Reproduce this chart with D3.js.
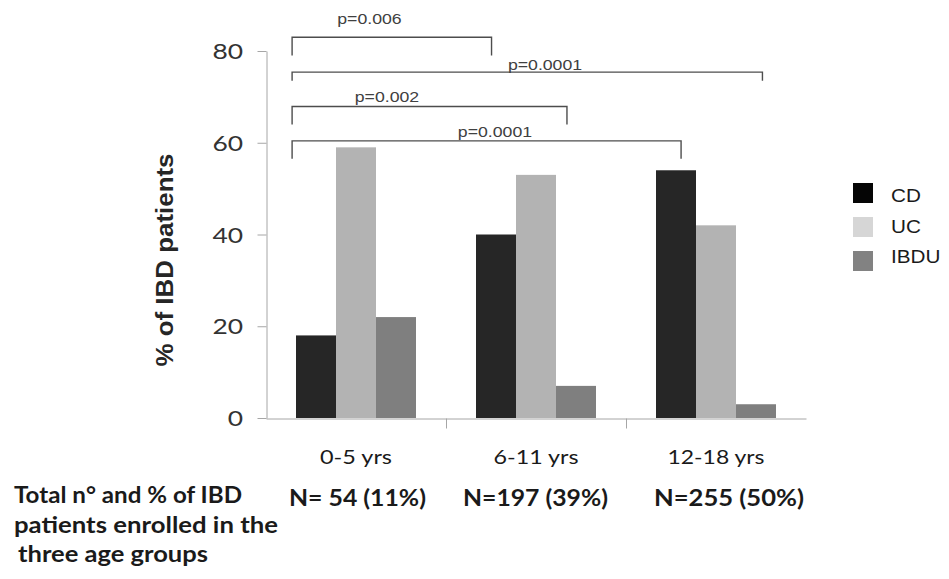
<!DOCTYPE html>
<html>
<head>
<meta charset="utf-8">
<script src="https://cdn.jsdelivr.net/npm/d3@7"></script>
<style>
  html, body { margin: 0; padding: 0; background: #ffffff; }
  svg { display: block; }
</style>
</head>
<body>
<svg id="chart" width="949" height="579"></svg>
<script>
// ---- data ----
const categories = ["0-5 yrs", "6-11 yrs", "12-18 yrs"];
const seriesNames = ["CD", "UC", "IBDU"];
const cdValues = [18, 40, 54];
const ucValues = [59, 53, 42];
const ibduValues = [22, 7, 3];
const yTicks = [0, 20, 40, 60, 80];
const totals = ["N= 54 (11%)", "N=197 (39%)", "N=255 (50%)"];
const pLabels = ["p=0.006", "p=0.0001", "p=0.002", "p=0.0001"];
const captionLines = ["Total n\u00b0 and % of IBD", "patients enrolled in the", "three age groups"];
const yTitle = "% of IBD patients";

const seriesValues = [cdValues, ucValues, ibduValues];
const barColors = ["#262626", "#b3b3b3", "#7f7f7f"];
const swatchColors = ["#050505", "#d6d6d6", "#828282"];

// ---- layout ----
const svg = d3.select("#chart");
const plot = { left: 266, right: 806, top: 51, bottom: 418 };
const numFont = "'Liberation Sans', Arial, Helvetica, sans-serif";
const tableFont = "Lato, 'Open Sans', sans-serif";
const axisColor = "#a6a6a6";

const y = d3.scaleLinear().domain([0, 80]).range([plot.bottom, plot.top]);
const x0 = d3.scaleBand().domain(categories).range([plot.left, plot.right])
  .paddingInner(1 / 3).paddingOuter(1 / 6);
const x1 = d3.scaleBand().domain(seriesNames).range([0, x0.bandwidth()]);
// continuous position along the category axis (one unit per age group)
const xu = d3.scaleLinear().domain([0, categories.length]).range([plot.left, plot.right]);

// text drawn slightly widened horizontally
function placeText(sel, x, yy, k) {
  return sel.attr("transform", `translate(${x},${yy}) scale(${k},1)`);
}

// ---- bars ----
const rows = categories.map((c, i) => ({
  cat: c,
  vals: seriesNames.map((s, j) => ({ s, j, v: seriesValues[j][i] }))
}));

svg.append("g").selectAll("g").data(rows).join("g")
  .attr("transform", d => `translate(${x0(d.cat)},0)`)
  .selectAll("rect").data(d => d.vals).join("rect")
  .attr("x", d => x1(d.s))
  .attr("width", x1.bandwidth())
  .attr("y", d => y(d.v))
  .attr("height", d => y(0) - y(d.v))
  .attr("fill", d => barColors[d.j]);

// ---- axes ----
const yAxis = svg.append("g")
  .attr("transform", `translate(${plot.left + 0.5},0)`)
  .call(d3.axisLeft(y).tickValues(yTicks).tickSize(9).tickSizeOuter(0).tickFormat(""));
yAxis.selectAll("path, line").attr("stroke", axisColor).attr("stroke-width", 1);

const xAxis = svg.append("g")
  .attr("transform", `translate(0,${plot.bottom + 0.5})`)
  .call(d3.axisBottom(xu).tickValues([1, 2]).tickSize(10).tickSizeOuter(0).tickFormat(""));
xAxis.selectAll("path, line").attr("stroke", axisColor).attr("stroke-width", 1);

// y tick labels
svg.append("g").selectAll("text").data(yTicks).join("text")
  .each(function (d) { placeText(d3.select(this), 243, y(d) + 8, 1.2); })
  .attr("text-anchor", "end")
  .attr("font-family", tableFont)
  .attr("font-size", 22)
  .attr("fill", "#333333")
  .text(d => d);

// y title
svg.append("text")
  .attr("transform", `translate(173,260) rotate(-90)`)
  .attr("text-anchor", "middle")
  .attr("font-family", numFont)
  .attr("font-weight", "bold")
  .attr("font-size", 23)
  .attr("fill", "#262626")
  .attr("textLength", 213)
  .attr("lengthAdjust", "spacingAndGlyphs")
  .text(yTitle);

// category labels under the axis
const catWidths = [72, 85, 97];
svg.append("g").selectAll("text").data(categories).join("text")
  .attr("x", (d, i) => x0(d) + x0.bandwidth() / 2 - catWidths[i] / 2)
  .attr("y", 463.5)
  .attr("font-family", tableFont)
  .attr("font-size", 19.5)
  .attr("fill", "#1a1a1a")
  .attr("textLength", (d, i) => catWidths[i])
  .attr("lengthAdjust", "spacingAndGlyphs")
  .text(d => d);

// totals per age group
const totalLeft = [23, 17, 28];
const totalWidths = [137, 145, 150];
svg.append("g").selectAll("text").data(totals).join("text")
  .attr("x", (d, i) => xu(i) + totalLeft[i])
  .attr("y", 505.5)
  .attr("font-family", tableFont)
  .attr("font-weight", "bold")
  .attr("font-size", 23)
  .attr("fill", "#1a1a1a")
  .attr("textLength", (d, i) => totalWidths[i])
  .attr("lengthAdjust", "spacingAndGlyphs")
  .text(d => d);

// caption on the left
const captionX = [14, 14, 18];
const captionY = [503, 533, 562];
const captionW = [228, 264, 190];
svg.append("g").selectAll("text").data(captionLines).join("text")
  .attr("x", (d, i) => captionX[i])
  .attr("y", (d, i) => captionY[i])
  .attr("font-family", tableFont)
  .attr("font-weight", "bold")
  .attr("font-size", 23)
  .attr("fill", "#1a1a1a")
  .attr("textLength", (d, i) => captionW[i])
  .attr("lengthAdjust", "spacingAndGlyphs")
  .text(d => d);

// ---- significance brackets ----
// spans in age-group units, heights in axis units
const bracketLayout = [
  { x0: 0.145, x1: 1.253, top: 83.0, foot: 79.0, tx: 0.575, dy: -12.8 },
  { x0: 0.145, x1: 2.758, top: 75.4, foot: 73.5, tx: 1.55, dy: -2.6 },
  { x0: 0.145, x1: 1.672, top: 67.9, foot: 64.0, tx: 0.672, dy: -4.3 },
  { x0: 0.145, x1: 2.306, top: 60.4, foot: 56.5, tx: 1.272, dy: -3.7 }
];
const bracketG = svg.append("g");
bracketLayout.forEach((b, i) => {
  const path = d3.path();
  path.moveTo(xu(b.x0), y(b.foot));
  path.lineTo(xu(b.x0), y(b.top));
  path.lineTo(xu(b.x1), y(b.top));
  path.lineTo(xu(b.x1), y(b.foot));
  bracketG.append("path")
    .attr("d", path.toString())
    .attr("fill", "none")
    .attr("stroke", "#4d4d4d")
    .attr("stroke-width", 1.4);
  placeText(bracketG.append("text"), xu(b.tx), y(b.top) + b.dy, 1.18)
    .attr("text-anchor", "middle")
    .attr("font-family", numFont)
    .attr("font-size", 15)
    .attr("fill", "#404040")
    .text(pLabels[i]);
});

// ---- legend ----
const legend = svg.append("g").selectAll("g").data(seriesNames).join("g");
legend.append("rect")
  .attr("x", 853)
  .attr("y", (d, i) => 183 + i * 34)
  .attr("width", 20)
  .attr("height", 20)
  .attr("fill", (d, i) => swatchColors[i]);
legend.append("text")
  .each(function (d, i) { placeText(d3.select(this), 891, 202 + i * 30.5, 1.15); })
  .attr("font-family", numFont)
  .attr("font-size", 18)
  .attr("fill", "#1a1a1a")
  .text(d => d);
</script>
</body>
</html>
